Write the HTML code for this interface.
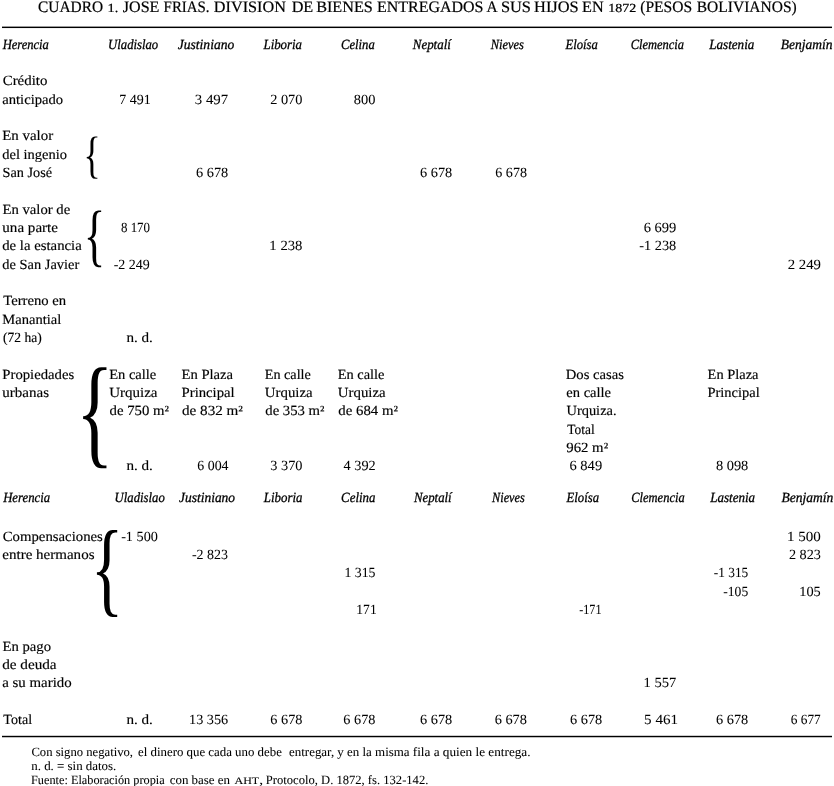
<!DOCTYPE html><html lang="es"><head><meta charset="utf-8"><title>Cuadro 1</title><style>
html,body{margin:0;padding:0;background:#fff;}
html{width:834px;height:786px;overflow:hidden;}
h1{margin:0;font:inherit;}
body{width:834px;height:786px;overflow:hidden;}
.page{width:834px;height:786px;position:relative;overflow:hidden;font-family:"Liberation Serif",serif;color:#000;}
.s{position:absolute;left:0;top:0;white-space:pre;line-height:1;transform-origin:0 0;text-rendering:geometricPrecision;}
.b{font-size:14.0px;-webkit-text-stroke:0.15px #000;}
.i{font-size:14.0px;font-style:italic;-webkit-text-stroke:0.3px #000;}
.t{font-size:16.0px;-webkit-text-stroke:0.2px #000;}
.tn{font-size:12.4px;-webkit-text-stroke:0.2px #000;}
.n{font-size:14.0px;-webkit-text-stroke:0.04px #000;}
.f{font-size:12.6px;-webkit-text-stroke:0.06px #000;}
.sc{font-size:0.78em;}
.br{position:absolute;left:0;top:0;white-space:pre;line-height:1;transform-origin:0 0;text-rendering:geometricPrecision;font-family:"Liberation Serif",serif;}
</style></head><body><main class="page">
<svg class="lines" width="834" height="786" viewBox="0 0 834 786" style="position:absolute;left:0;top:0"><rect x="2" y="26.6" width="830" height="1.45" fill="#000"/><rect x="2" y="735.8" width="830" height="1.45" fill="#000"/></svg>
<h1>
<span class="s t" style="transform:translate(38.02px,0.20px) scaleX(0.9622)">CUADRO</span>
<span class="s tn" style="transform:translate(107.62px,2.20px) scaleX(1.1623)">1.</span>
<span class="s t" style="transform:translate(122.77px,0.20px) scaleX(1.0047)">JOSE</span>
<span class="s t" style="transform:translate(163.61px,0.20px) scaleX(0.9303)">FRIAS.</span>
<span class="s t" style="transform:translate(213.83px,0.20px) scaleX(1.0131)">DIVISION</span>
<span class="s t" style="transform:translate(291.65px,0.20px) scaleX(1.0141)">DE</span>
<span class="s t" style="transform:translate(316.17px,0.20px) scaleX(1.0119)">BIENES</span>
<span class="s t" style="transform:translate(376.94px,0.20px) scaleX(0.9982)">ENTREGADOS</span>
<span class="s t" style="transform:translate(486.49px,0.20px) scaleX(0.9586)">A</span>
<span class="s t" style="transform:translate(500.91px,0.20px) scaleX(1.0226)">SUS</span>
<span class="s t" style="transform:translate(534.08px,0.20px) scaleX(1.0243)">HIJOS</span>
<span class="s t" style="transform:translate(582.04px,0.20px) scaleX(1.0124)">EN</span>
<span class="s tn" style="transform:translate(608.15px,2.20px) scaleX(1.1315)">1872</span>
<span class="s t" style="transform:translate(640.23px,0.20px) scaleX(0.9728)">(PESOS</span>
<span class="s t" style="transform:translate(696.76px,0.20px) scaleX(0.9692)">BOLIVIANOS)</span>
</h1>
<div class="heads">
<span class="s i" style="transform:translate(2.66px,39.10px) scaleX(0.8962)">Herencia</span>
<span class="s i" style="transform:translate(108.06px,39.10px) scaleX(0.9084)">Uladislao</span>
<span class="s i" style="transform:translate(177.78px,39.10px) scaleX(0.9675)">Justiniano</span>
<span class="s i" style="transform:translate(263.49px,39.10px) scaleX(0.9167)">Liboria</span>
<span class="s i" style="transform:translate(341.00px,39.10px) scaleX(0.9034)">Celina</span>
<span class="s i" style="transform:translate(412.77px,39.10px) scaleX(0.9239)">Neptalí</span>
<span class="s i" style="transform:translate(490.84px,39.10px) scaleX(0.8872)">Nieves</span>
<span class="s i" style="transform:translate(565.47px,39.10px) scaleX(0.9056)">Eloísa</span>
<span class="s i" style="transform:translate(630.68px,39.10px) scaleX(0.8919)">Clemencia</span>
<span class="s i" style="transform:translate(709.23px,39.10px) scaleX(0.9352)">Lastenia</span>
<span class="s i" style="transform:translate(780.78px,39.10px) scaleX(0.9640)">Benjamín</span>
<span class="s i" style="transform:translate(3.17px,491.90px) scaleX(0.9094)">Herencia</span>
<span class="s i" style="transform:translate(114.59px,491.90px) scaleX(0.9086)">Uladislao</span>
<span class="s i" style="transform:translate(179.06px,491.90px) scaleX(0.9598)">Justiniano</span>
<span class="s i" style="transform:translate(263.87px,491.90px) scaleX(0.9192)">Liboria</span>
<span class="s i" style="transform:translate(341.08px,491.90px) scaleX(0.9201)">Celina</span>
<span class="s i" style="transform:translate(413.97px,491.90px) scaleX(0.9137)">Neptalí</span>
<span class="s i" style="transform:translate(492.08px,491.90px) scaleX(0.8747)">Nieves</span>
<span class="s i" style="transform:translate(566.49px,491.90px) scaleX(0.9089)">Eloísa</span>
<span class="s i" style="transform:translate(631.28px,491.90px) scaleX(0.8909)">Clemencia</span>
<span class="s i" style="transform:translate(710.21px,491.90px) scaleX(0.9294)">Lastenia</span>
<span class="s i" style="transform:translate(781.49px,491.90px) scaleX(0.9638)">Benjamín</span>
</div>
<div class="cells">
<span class="s b" style="transform:translate(2.71px,75.00px) scaleX(1.0629)">Crédito</span>
<span class="s b" style="transform:translate(2.26px,94.00px) scaleX(1.0436)">anticipado</span>
<span class="s b" style="transform:translate(2.27px,130.00px) scaleX(1.0633)">En valor</span>
<span class="s b" style="transform:translate(2.26px,149.00px) scaleX(1.0341)">del ingenio</span>
<span class="s b" style="transform:translate(2.52px,167.00px) scaleX(1.0178)">San José</span>
<span class="s b" style="transform:translate(2.51px,204.00px) scaleX(1.0491)">En valor de</span>
<span class="s b" style="transform:translate(2.34px,222.20px) scaleX(1.0759)">una parte</span>
<span class="s b" style="transform:translate(2.23px,240.20px) scaleX(1.0540)">de la estancia</span>
<span class="s b" style="transform:translate(2.35px,258.80px) scaleX(1.0295)">de San Javier</span>
<span class="s b" style="transform:translate(3.20px,295.30px) scaleX(1.0484)">Terreno en</span>
<span class="s b" style="transform:translate(2.34px,313.60px) scaleX(1.0377)">Manantial</span>
<span class="s b" style="transform:translate(2.96px,332.30px) scaleX(0.9671)">(72 ha)</span>
<span class="s b" style="transform:translate(2.32px,368.70px) scaleX(1.0497)">Propiedades</span>
<span class="s b" style="transform:translate(2.34px,386.80px) scaleX(1.0722)">urbanas</span>
<span class="s b" style="transform:translate(2.75px,531.00px) scaleX(1.0550)">Compensaciones</span>
<span class="s b" style="transform:translate(2.36px,549.10px) scaleX(1.0723)">entre hermanos</span>
<span class="s b" style="transform:translate(2.50px,640.90px) scaleX(1.0488)">En pago</span>
<span class="s b" style="transform:translate(2.15px,658.90px) scaleX(1.0861)">de deuda</span>
<span class="s b" style="transform:translate(2.26px,677.00px) scaleX(1.0627)">a su marido</span>
<span class="s b" style="transform:translate(3.36px,714.10px) scaleX(1.0036)">Total</span>
<span class="s n" style="transform:translate(119.36px,94.00px) scaleX(0.9993)">7 491</span>
<span class="s n" style="transform:translate(194.80px,94.00px) scaleX(1.0602)">3 497</span>
<span class="s n" style="transform:translate(270.15px,94.00px) scaleX(1.0238)">2 070</span>
<span class="s n" style="transform:translate(353.85px,94.00px) scaleX(1.0286)">800</span>
<span class="s n" style="transform:translate(196.01px,167.00px) scaleX(1.0242)">6 678</span>
<span class="s n" style="transform:translate(420.01px,167.00px) scaleX(1.0242)">6 678</span>
<span class="s n" style="transform:translate(495.30px,167.00px) scaleX(1.0055)">6 678</span>
<span class="s n" style="transform:translate(120.94px,222.20px) scaleX(0.9248)">8 170</span>
<span class="s n" style="transform:translate(643.64px,222.20px) scaleX(1.0378)">6 699</span>
<span class="s n" style="transform:translate(269.36px,240.20px) scaleX(1.0498)">1 238</span>
<span class="s n" style="transform:translate(639.18px,240.20px) scaleX(1.0254)">-1 238</span>
<span class="s n" style="transform:translate(113.63px,258.80px) scaleX(0.9967)">-2 249</span>
<span class="s n" style="transform:translate(787.67px,258.80px) scaleX(1.0579)">2 249</span>
<span class="s b" style="transform:translate(126.39px,332.30px) scaleX(1.0818)">n. d.</span>
<span class="s b" style="transform:translate(109.13px,368.70px) scaleX(1.0372)">En calle</span>
<span class="s b" style="transform:translate(109.16px,386.80px) scaleX(1.0725)">Urquiza</span>
<span class="s b" style="transform:translate(109.61px,405.00px) scaleX(1.0530)">de 750 m²</span>
<span class="s b" style="transform:translate(181.53px,368.70px) scaleX(1.0445)">En Plaza</span>
<span class="s b" style="transform:translate(181.60px,386.80px) scaleX(1.0494)">Principal</span>
<span class="s b" style="transform:translate(181.98px,405.00px) scaleX(1.0816)">de 832 m²</span>
<span class="s b" style="transform:translate(264.74px,368.70px) scaleX(1.0141)">En calle</span>
<span class="s b" style="transform:translate(264.82px,386.80px) scaleX(1.0597)">Urquiza</span>
<span class="s b" style="transform:translate(265.28px,405.00px) scaleX(1.0517)">de 353 m²</span>
<span class="s b" style="transform:translate(337.72px,368.70px) scaleX(1.0289)">En calle</span>
<span class="s b" style="transform:translate(337.82px,386.80px) scaleX(1.0597)">Urquiza</span>
<span class="s b" style="transform:translate(338.30px,405.00px) scaleX(1.0579)">de 684 m²</span>
<span class="s b" style="transform:translate(565.74px,368.70px) scaleX(1.0479)">Dos casas</span>
<span class="s b" style="transform:translate(566.32px,386.80px) scaleX(1.0374)">en calle</span>
<span class="s b" style="transform:translate(566.48px,405.00px) scaleX(1.0301)">Urquiza.</span>
<span class="s b" style="transform:translate(567.24px,424.00px) scaleX(0.9583)">Total</span>
<span class="s b" style="transform:translate(566.25px,441.50px) scaleX(1.0561)">962 m²</span>
<span class="s b" style="transform:translate(707.56px,368.70px) scaleX(1.0310)">En Plaza</span>
<span class="s b" style="transform:translate(707.53px,386.80px) scaleX(1.0309)">Principal</span>
<span class="s b" style="transform:translate(126.39px,459.80px) scaleX(1.0818)">n. d.</span>
<span class="s n" style="transform:translate(197.31px,459.80px) scaleX(0.9903)">6 004</span>
<span class="s n" style="transform:translate(270.23px,459.80px) scaleX(1.0236)">3 370</span>
<span class="s n" style="transform:translate(343.58px,459.80px) scaleX(1.0201)">4 392</span>
<span class="s n" style="transform:translate(569.45px,459.80px) scaleX(1.0385)">6 849</span>
<span class="s n" style="transform:translate(715.89px,459.80px) scaleX(1.0294)">8 098</span>
<span class="s n" style="transform:translate(121.13px,531.00px) scaleX(1.0152)">-1 500</span>
<span class="s n" style="transform:translate(786.99px,531.00px) scaleX(1.0766)">1 500</span>
<span class="s n" style="transform:translate(191.97px,549.10px) scaleX(0.9967)">-2 823</span>
<span class="s n" style="transform:translate(788.90px,549.10px) scaleX(1.0154)">2 823</span>
<span class="s n" style="transform:translate(344.42px,567.40px) scaleX(0.9869)">1 315</span>
<span class="s n" style="transform:translate(713.79px,567.40px) scaleX(0.9541)">-1 315</span>
<span class="s n" style="transform:translate(723.30px,585.70px) scaleX(0.9686)">-105</span>
<span class="s n" style="transform:translate(799.26px,585.70px) scaleX(1.0231)">105</span>
<span class="s n" style="transform:translate(356.34px,604.00px) scaleX(0.9679)">171</span>
<span class="s n" style="transform:translate(579.22px,604.00px) scaleX(0.8682)">-171</span>
<span class="s n" style="transform:translate(643.59px,677.00px) scaleX(1.0416)">1 557</span>
<span class="s b" style="transform:translate(126.39px,714.10px) scaleX(1.0818)">n. d.</span>
<span class="s n" style="transform:translate(189.01px,714.10px) scaleX(1.0167)">13 356</span>
<span class="s n" style="transform:translate(270.36px,714.10px) scaleX(1.0197)">6 678</span>
<span class="s n" style="transform:translate(343.36px,714.10px) scaleX(1.0197)">6 678</span>
<span class="s n" style="transform:translate(420.01px,714.10px) scaleX(1.0242)">6 678</span>
<span class="s n" style="transform:translate(494.63px,714.10px) scaleX(1.0261)">6 678</span>
<span class="s n" style="transform:translate(570.01px,714.10px) scaleX(1.0242)">6 678</span>
<span class="s n" style="transform:translate(644.12px,714.10px) scaleX(1.0761)">5 461</span>
<span class="s n" style="transform:translate(716.01px,714.10px) scaleX(1.0242)">6 678</span>
<span class="s n" style="transform:translate(790.72px,714.10px) scaleX(0.9539)">6 677</span>
<span class="br" style="font-size:51.26px;transform:translate(83.50px,129.82px) scaleX(0.6952);">{</span>
<span class="br" style="font-size:68.41px;transform:translate(83.68px,201.02px) scaleX(0.6529);">{</span>
<span class="br" style="font-size:122.20px;transform:translate(75.95px,350.59px) scaleX(0.6411);">{</span>
<span class="br" style="font-size:105.12px;transform:translate(90.68px,514.73px) scaleX(0.6469);">{</span>
</div>
<div class="notes">
<span class="s f" style="transform:translate(31.42px,746.10px) scaleX(1.0047)">Con signo negativo,</span>
<span class="s f" style="transform:translate(138.05px,746.10px) scaleX(1.0206)">el dinero que cada uno debe</span>
<span class="s f" style="transform:translate(289.04px,746.10px) scaleX(1.0272)">entregar, y en la misma</span>
<span class="s f" style="transform:translate(412.74px,746.10px) scaleX(1.0495)">fila a quien le entrega.</span>
<span class="s f" style="transform:translate(31.24px,760.00px) scaleX(1.0245)">n. d. = sin datos.</span>
<span class="s f" style="transform:translate(31.04px,773.80px) scaleX(0.9744)">Fuente: Elaboración propia</span>
<span class="s f" style="transform:translate(169.72px,773.80px) scaleX(1.0267)">con base en</span>
<span class="s f" style="transform:translate(234.54px,773.80px) scaleX(1.2218)"><span class="sc">AHT</span>,</span>
<span class="s f" style="transform:translate(265.82px,773.80px) scaleX(0.9991)">Protocolo, D. 1872, fs. 132-142.</span>
</div>
</main></body></html>
